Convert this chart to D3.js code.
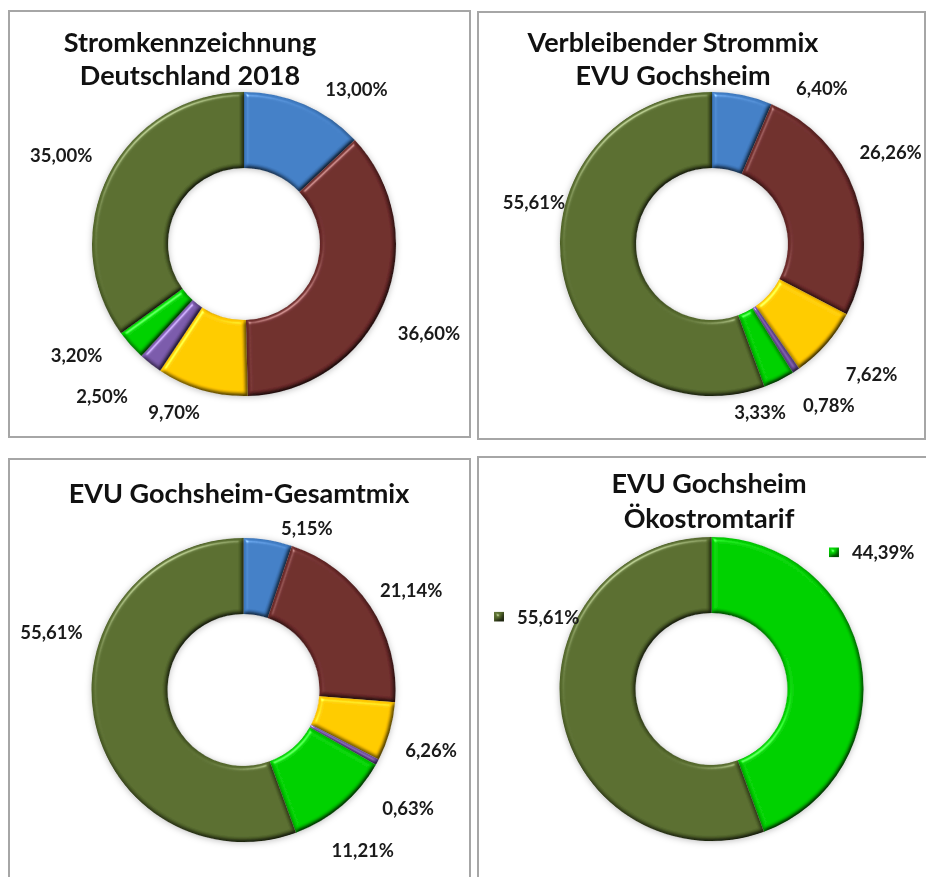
<!DOCTYPE html>
<html><head><meta charset="utf-8">
<script src="https://cdn.jsdelivr.net/npm/d3@7"></script>
<style>
html,body{margin:0;padding:0;background:#fff;}
svg{display:block;}
</style></head>
<body>
<svg id="c" width="926" height="877"></svg>
<script>
// ---- data ----
const categories = ["Kernkraft", "Kohle", "Erdgas", "Sonstige fossile Energieträger", "Erneuerbare Energien mit Herkunftsnachweis", "Erneuerbare Energien, finanziert aus der EEG-Umlage"];
const categoryColors = ["#3f7bc2", "#6b2a29", "#ffc600", "#7656a6", "#00cc00", "#566a2d"];

const titleDE2018 = ["Stromkennzeichnung", "Deutschland 2018"];
const valuesDE2018 = [13.00, 36.60, 9.70, 2.50, 3.20, 35.00];

const titleRest = ["Verbleibender Strommix", "EVU Gochsheim"];
const valuesRest = [6.40, 26.26, 7.62, 0.78, 3.33, 55.61];

const titleGesamt = ["EVU Gochsheim-Gesamtmix"];
const valuesGesamt = [5.15, 21.14, 6.26, 0.63, 11.21, 55.61];

const titleOeko = ["EVU Gochsheim", "Ökostromtarif"];
const categoriesOeko = [categories[4], categories[5]];
const valuesOeko = [44.39, 55.61];

// ---- layout (not data) ----
const svg = d3.select("#c");
const defs = svg.append("defs");

const bevel = defs.append("filter").attr("id","bevel")
  .attr("color-interpolation-filters","sRGB")
  .attr("x","-10%").attr("y","-10%").attr("width","120%").attr("height","120%");
bevel.append("feGaussianBlur").attr("in","SourceAlpha").attr("stdDeviation",2.2).attr("result","blur");
const dif = bevel.append("feDiffuseLighting").attr("in","blur").attr("surfaceScale",3)
  .attr("diffuseConstant",1.16).attr("lighting-color","#ffffff").attr("result","diff");
dif.append("feDistantLight").attr("azimuth",235).attr("elevation",60);
const spec = bevel.append("feSpecularLighting").attr("in","blur").attr("surfaceScale",3)
  .attr("specularConstant",0.5).attr("specularExponent",35).attr("lighting-color","#ffffff").attr("result","spec");
spec.append("feDistantLight").attr("azimuth",235).attr("elevation",45);
bevel.append("feComposite").attr("in","spec").attr("in2","SourceAlpha").attr("operator","in").attr("result","specOut");
bevel.append("feComposite").attr("in","SourceGraphic").attr("in2","diff").attr("operator","arithmetic")
  .attr("k1",1).attr("k2",0).attr("k3",0).attr("k4",0).attr("result","lit");
bevel.append("feComposite").attr("in","lit").attr("in2","specOut").attr("operator","arithmetic")
  .attr("k1",0).attr("k2",1).attr("k3",0.8).attr("k4",0).attr("result","all");
bevel.append("feComposite").attr("in","all").attr("in2","SourceAlpha").attr("operator","in");

const shadow = defs.append("filter").attr("id","shadow")
  .attr("x","-10%").attr("y","-10%").attr("width","120%").attr("height","120%");
shadow.append("feDropShadow").attr("dx",0).attr("dy",1).attr("stdDeviation",3).attr("flood-color","#000").attr("flood-opacity",0.25);

const panels = [
  {x:9, y:11, w:461, h:426, cx:244, cy:244, title:titleDE2018, titleY:[42,75], titleX:190,
   cats:categories, values:valuesDE2018,
   nudge:[[35,24],[5,14],[-16,-19],[-22,-1],[-22,-19],[-9,0]]},
  {x:478, y:12, w:447, h:427, cx:712, cy:244, title:titleRest, titleY:[42,75], titleX:673,
   cats:categories, values:valuesRest,
   nudge:[[71,35],[-5,-26],[13,2],[9,-1],[-38,-7],[14,-76]]},
  {x:9, y:459, w:461, h:440, cx:243.5, cy:690, title:titleGesamt, titleY:[493], titleX:239,
   cats:categories, values:valuesGesamt,
   nudge:[[32,31],[5,8],[0,7],[-7,26],[-7,12],[0,-92]]},
  {x:478, y:457, w:452, h:440, cx:711.5, cy:689, title:titleOeko, titleY:[483,518], titleX:709,
   cats:categoriesOeko, values:valuesOeko, legendKeys:true,
   nudge:[[-51.5,-102],[-2.5,-106]]}
];

const outerR = 152, innerR = 76, labelR = 195;
const color = d3.scaleOrdinal().domain(categories).range(categoryColors);
const fmt = v => d3.format(".2f")(v).replace(".", ",") + "%";
const labelFont = {family:"Lato, sans-serif", weight:700, size:18.5};

panels.forEach(p => {
  svg.append("rect").attr("x",p.x).attr("y",p.y).attr("width",p.w).attr("height",p.h)
    .attr("fill","#fff").attr("stroke","#a6a6a6").attr("stroke-width",2);

  const g = svg.append("g").attr("transform",`translate(${p.cx},${p.cy})`);
  const data = p.values.map((v,i)=>({cat:p.cats[i], value:v}));
  const pie = d3.pie().sort(null).value(d=>d.value);
  const arcs = pie(data);
  const arc = d3.arc().innerRadius(innerR).outerRadius(outerR);
  const labelArc = d3.arc().innerRadius(labelR).outerRadius(labelR);

  const ring = g.append("g").attr("filter","url(#shadow)");
  ring.selectAll("path").data(arcs).join("path")
    .attr("d",arc)
    .attr("fill",d=>color(d.data.cat))
    .attr("stroke",d=>d3.color(color(d.data.cat)).darker(0.4))
    .attr("stroke-width",0.5)
    .attr("filter","url(#bevel)");

  const lab = g.append("g");
  arcs.forEach((d,i)=>{
    const [bx,by] = labelArc.centroid(d);
    const x = bx + p.nudge[i][0], y = by + p.nudge[i][1];
    if (p.legendKeys) {
      lab.append("rect").attr("x",x-23).attr("y",y-5.5).attr("width",10).attr("height",10)
        .attr("fill",color(d.data.cat)).attr("filter","url(#bevel)");
    }
    lab.append("text").attr("x",x).attr("y",y).attr("dy","0.36em")
      .attr("text-anchor", p.legendKeys ? "start" : "middle")
      .attr("font-family",labelFont.family).attr("font-weight",labelFont.weight).attr("font-size",labelFont.size)
      .attr("fill","#1a1a1a").text(fmt(d.data.value));
  });

  p.title.forEach((t,i)=>{
    svg.append("text").attr("x",p.titleX).attr("y",p.titleY[i]).attr("dy","0.36em")
      .attr("text-anchor","middle").attr("font-family","Lato, sans-serif").attr("font-weight",700)
      .attr("font-size",27).attr("fill","#111").text(t);
  });
});
</script>
</body></html>
